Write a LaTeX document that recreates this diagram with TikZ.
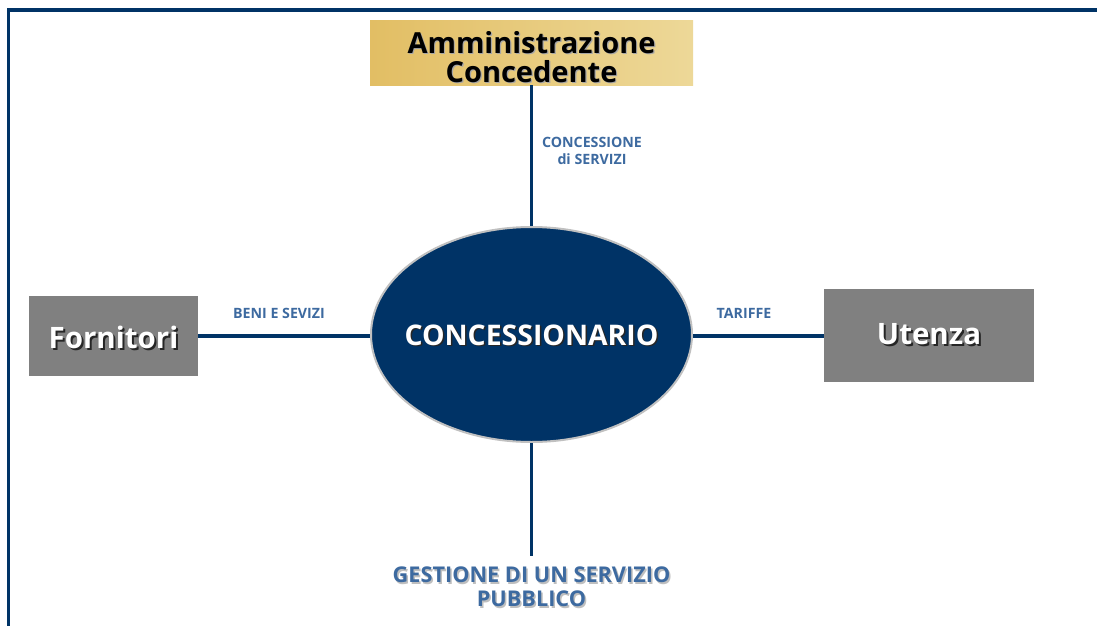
\documentclass[tikz,border=0pt]{standalone}
\usepackage{fontspec}
\setmainfont{Open Sans}
\usetikzlibrary{shapes.geometric}
\definecolor{navy}{RGB}{0,51,102}
\definecolor{lblue}{RGB}{61,106,160}
\definecolor{goldL}{RGB}{226,190,100}
\definecolor{goldR}{RGB}{237,216,152}
\definecolor{boxgray}{RGB}{128,128,128}
\definecolor{rimgray}{RGB}{192,192,192}
\begin{document}
\begin{tikzpicture}[x=1pt,y=-1pt,
  link/.style={draw=navy,line width=3.2pt},
  graybox/.style={fill=boxgray,draw=none,inner sep=0pt},
  boxtxt/.style={text=white,font=\bfseries\fontsize{29.5}{32}\selectfont,inner sep=0pt},
  boxshadow/.style={text=black!85,font=\bfseries\fontsize{29.5}{32}\selectfont,inner sep=0pt},
  admtxt/.style={text=black,font=\bfseries\fontsize{29}{29}\selectfont,align=center,inner sep=0pt},
  admshadow/.style={text=black!35,font=\bfseries\fontsize{29}{29}\selectfont,align=center,inner sep=0pt},
  lab/.style={text=lblue,font=\bfseries\fontsize{14.2}{17}\selectfont,align=center,inner sep=0pt},
  biglab/.style={text=lblue,font=\bfseries\fontsize{21.7}{24}\selectfont,align=center,inner sep=0pt},
  biglabshadow/.style={text=black!25,font=\bfseries\fontsize{21.7}{24}\selectfont,align=center,inner sep=0pt}]
\useasboundingbox (0,0) rectangle (1097,626);
\fill[white] (0,0) rectangle (1097,626);
% frame
\draw[navy,line width=3.5pt] (8.5,630) -- (8.5,10) -- (1100,10);
% central ellipse
\node[ellipse,fill=navy,draw=rimgray,line width=2pt,minimum width=321pt,minimum height=215pt,inner sep=0pt] (conc) at (531.5,334.5) {};
\node[boxshadow,font=\bfseries\fontsize{28.4}{30}\selectfont] (conc-s) at (533,336.5) {CONCESSIONARIO};
\node[boxtxt,font=\bfseries\fontsize{28.4}{30}\selectfont] (conc-t) at (531.5,335) {CONCESSIONARIO};
% top box
\node[left color=goldL,right color=goldR,draw=none,minimum width=323pt,minimum height=64pt,inner sep=0pt] (adm) at (531.5,53) {};
\node[admshadow] (adm-s) at (532.7,58.2) {Amministrazione\\Concedente};
\node[admtxt] (adm-t) at (531.5,57) {Amministrazione\\Concedente};
% left box
\node[graybox,minimum width=169pt,minimum height=80pt] (forn) at (113.5,336) {};
\node[boxshadow] (forn-s) at (115.5,339.5) {Fornitori};
\node[boxtxt] (forn-t) at (113.5,337.5) {Fornitori};
% right box
\node[graybox,minimum width=210pt,minimum height=93pt] (ute) at (929,335.5) {};
\node[boxshadow] (ute-s) at (931,336) {Utenza};
\node[boxtxt] (ute-t) at (929,334) {Utenza};
% connectors
\draw[link] (adm.south) -- (conc.north);
\draw[link] (forn.east |- 0,336) -- (conc.west |- 0,336);
\draw[link] (conc.east |- 0,336) -- (ute.west |- 0,336);
\coordinate (bend) at (531.5,556);
\draw[link] (conc.south) -- (bend);
% labels
\node[lab] (lconc) at (592,151) {CONCESSIONE\\di SERVIZI};
\node[lab] (lbeni) at (279,313) {BENI E SEVIZI};
\node[lab] (ltar) at (744,313) {TARIFFE};
\node[biglabshadow] (gest-s) at (533,588.5) {GESTIONE DI UN SERVIZIO\\PUBBLICO};
\node[biglab] (gest) at (531.5,587) {GESTIONE DI UN SERVIZIO\\PUBBLICO};
\end{tikzpicture}
\end{document}
